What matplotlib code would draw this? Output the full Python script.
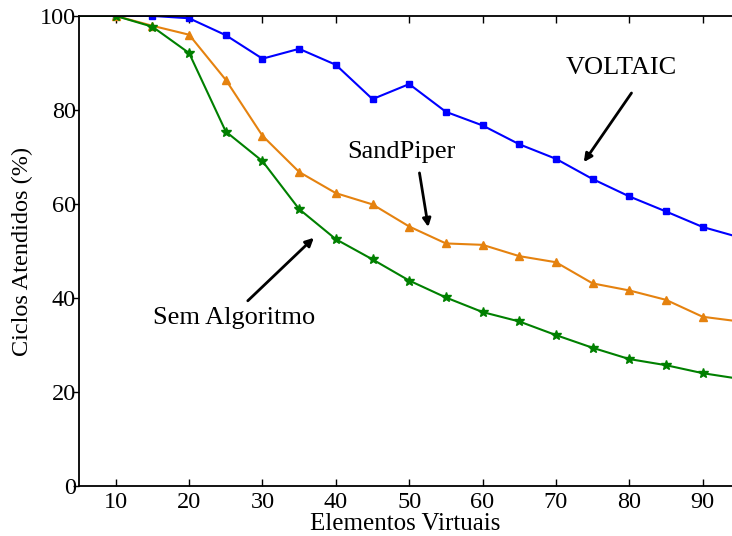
import numpy as np
import matplotlib
matplotlib.use("Agg")
import matplotlib.pyplot as plt

plt.rcParams['font.family'] = ['Liberation Serif', 'DejaVu Serif']

# Data
elementos = [5, 10, 15, 20, 25, 30, 35, 40, 45, 50, 55, 60, 65, 70, 75, 80, 85, 90, 95]
voltaic = [100, 100, 100, 99.5, 95.9, 90.9, 93.0, 89.6, 82.3, 85.5, 79.6, 76.7,
           72.7, 69.6, 65.3, 61.6, 58.4, 55.1, 52.9]
sandpiper = [100, 100, 97.9, 96.0, 86.4, 74.5, 66.8, 62.3, 59.9, 55.2, 51.6, 51.3,
             48.9, 47.6, 43.1, 41.6, 39.6, 36.0, 35.0]
sem_algoritmo = [100, 100, 97.7, 92.1, 75.4, 69.1, 58.9, 52.5, 48.2, 43.7, 40.1, 37.0,
                 35.0, 32.1, 29.4, 27.0, 25.7, 24.0, 22.8]
x_ticks = [10, 20, 30, 40, 50, 60, 70, 80, 90]
y_ticks = [0, 20, 40, 60, 80, 100]

fig = plt.figure(figsize=(7.32, 5.36), dpi=100)
ax = fig.add_axes([0.108, 0.0933, 0.892, 0.877])

# no marker on the x=5 point (it sits on the left spine in the original)
mk = slice(1, None)
ax.plot(elementos, voltaic, color="#0000FF", marker="s", markersize=4.5,
        linewidth=1.5, markevery=mk)
ax.plot(elementos, sandpiper, color="#E5820F", marker="^", markersize=5.5,
        linewidth=1.5, markevery=mk)
ax.plot(elementos, sem_algoritmo, color="#008000", marker="*", markersize=7.5,
        linewidth=1.5, markevery=mk)

ax.set_xlim(5, 94)
ax.set_ylim(0, 100)
ax.set_xticks(x_ticks)
ax.set_yticks(y_ticks)
ax.tick_params(axis="x", direction="in", top=True, length=5, width=1,
               labelsize=17.5, pad=4)
ax.tick_params(axis="y", direction="out", length=4.5, width=1,
               labelsize=17.5, pad=-2.2)
for s in ax.spines.values():
    s.set_linewidth(1.3)
ax.spines["right"].set_visible(False)

ax.set_xlabel("Elementos Virtuais", fontsize=18)
ax.xaxis.set_label_coords(0.5, -0.058)
ax.set_ylabel("Ciclos Atendidos (%)", fontsize=17.5)
ax.yaxis.set_label_coords(-0.070, 0.5)

arrow = dict(arrowstyle="-|>", color="black", lw=2, mutation_scale=12, shrinkA=0, shrinkB=0)
ax.text(78.9, 88.9, "VOLTAIC", fontsize=19, ha="center", va="center")
ax.annotate("", xy=(73.8, 68.9), xytext=(80.3, 83.6), arrowprops=arrow)
ax.text(49.0, 71.1, "SandPiper", fontsize=19, ha="center", va="center")
ax.annotate("", xy=(52.6, 55.1), xytext=(51.4, 66.6), arrowprops=arrow)
ax.text(26.1, 35.7, "Sem Algoritmo", fontsize=19, ha="center", va="center")
ax.annotate("", xy=(37.0, 52.8), xytext=(28.0, 39.4), arrowprops=arrow)

fig.savefig("out.png", dpi=100)
